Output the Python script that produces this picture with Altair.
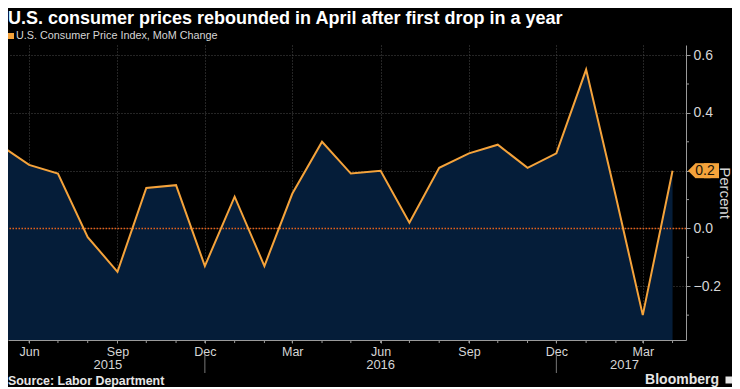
import altair as alt
import pandas as pd

# ---------------- data ----------------
months = [
    "2015-05-01", "2015-06-01", "2015-07-01", "2015-08-01", "2015-09-01", "2015-10-01",
    "2015-11-01", "2015-12-01", "2016-01-01", "2016-02-01", "2016-03-01", "2016-04-01",
    "2016-05-01", "2016-06-01", "2016-07-01", "2016-08-01", "2016-09-01", "2016-10-01",
    "2016-11-01", "2016-12-01", "2017-01-01", "2017-02-01", "2017-03-01", "2017-04-01",
]
cpi_mom = [
    0.29, 0.22, 0.19, -0.03, -0.15, 0.14,
    0.15, -0.13, 0.11, -0.13, 0.12, 0.30,
    0.19, 0.20, 0.02, 0.21, 0.26, 0.29,
    0.21, 0.26, 0.55, 0.11, -0.30, 0.20,
]
y_ticks = [-0.2, 0.0, 0.2, 0.4, 0.6]
y_minor = [-0.3, -0.1, 0.1, 0.3, 0.5]
label_months = ["2015-06-01", "2015-09-01", "2015-12-01", "2016-03-01",
                "2016-06-01", "2016-09-01", "2016-12-01", "2017-03-01"]
year_breaks = ["2015-12-01", "2016-12-01"]
year_labels = ["2015", "2016", "2017"]
year_label_at = ["2015-08-22", "2016-06-01", "2017-02-10"]

title_text = "U.S. consumer prices rebounded in April after first drop in a year"
legend_text = "U.S. Consumer Price Index, MoM Change"
source_text = "Source: Labor Department"
brand_text = "Bloomberg"

# ---------------- layout / style ----------------
W, H = 678, 295
Y_MIN, Y_MAX = -0.386, 0.635
FONT = "Liberation Sans, Arial, sans-serif"
ORANGE = "#f5a33b"
NAVY = "#051d39"
GRID = "#4a4a4a"
AXIS = "#9a9a9a"
LABEL = "#d6d6d6"

df = pd.DataFrame({"date": months, "value": cpi_mom})
last = df.tail(1)


def dt(s):
    y, m, d = (int(p) for p in s.split("-"))
    return alt.DateTime(year=y, month=m, date=d, utc=True)


xscale = alt.Scale(type="utc", domain=[alt.DateTime(year=2015, month=5, date=10, utc=True),
                                       alt.DateTime(year=2017, month=4, date=15, utc=True)])
yscale = alt.Scale(domain=[Y_MIN, Y_MAX], nice=False, zero=False)

x_axis = alt.Axis(
    values=[dt(m) for m in label_months], format="%b",
    tickSize=3, tickColor=AXIS, domainColor=AXIS, labelColor=LABEL, labelFontSize=12.5,
    labelPadding=2, grid=True, gridColor=GRID, gridDash=[1, 2], title=None,
    labelFlush=False, labelOverlap=False, labelFont=FONT,
)
y_axis = alt.Axis(
    orient="right", values=y_ticks, format=".1f",
    labelExpr="abs(datum.value - 0.2) < 1e-6 ? '' : datum.label",
    tickSize=4, tickColor=AXIS, domainColor=AXIS, labelColor=LABEL, labelFontSize=14,
    labelPadding=3, labelFont=FONT, grid=True, gridColor=GRID, gridDash=[1, 2],
    title="Percent", titleAngle=90, titleColor=LABEL, titleFontSize=15, titleFontWeight="normal",
    titleFont=FONT, titleX=38, titleY=H / 2, titleAlign="center", titleBaseline="middle",
)

base = alt.Chart(df)

area = base.mark_area(color=NAVY, clip=True).encode(
    x=alt.X("date:T", scale=xscale, axis=x_axis),
    y=alt.Y("value:Q", scale=yscale, axis=y_axis),
    y2=alt.datum(Y_MIN),
)

mticks = alt.Chart(pd.DataFrame({"date": months})).mark_rule(color=AXIS).encode(
    x=alt.X("date:T", scale=xscale), y=alt.value(H), y2=alt.value(H + 3)
)

zero = alt.Chart(pd.DataFrame({"value": [0.0]})).mark_rule(
    color="#e4621c", strokeDash=[1.5, 1.5], strokeWidth=1.6
).encode(y=alt.Y("value:Q", scale=yscale))

line = base.mark_line(color=ORANGE, strokeWidth=2, clip=True).encode(
    x=alt.X("date:T", scale=xscale), y=alt.Y("value:Q", scale=yscale)
)

minor = alt.Chart(pd.DataFrame({"value": y_minor})).mark_rule(color=AXIS).encode(
    y=alt.Y("value:Q", scale=yscale), x=alt.value(W), x2=alt.value(W + 3)
)

# value tag on the right axis: pointed tip + box
tag_tip = alt.Chart(last).mark_point(
    shape="diamond", filled=True, color=ORANGE, opacity=1, size=225, strokeWidth=0
).encode(y=alt.Y("value:Q", scale=yscale), x=alt.value(W + 9.5))
tag_box1 = alt.Chart(last).mark_point(
    shape="square", filled=True, color=ORANGE, opacity=1, size=225, strokeWidth=0
).encode(y=alt.Y("value:Q", scale=yscale), x=alt.value(W + 17))
tag_box2 = alt.Chart(last).mark_point(
    shape="square", filled=True, color=ORANGE, opacity=1, size=225, strokeWidth=0
).encode(y=alt.Y("value:Q", scale=yscale), x=alt.value(W + 25.5))
tag_text = alt.Chart(last).mark_text(
    font=FONT, fontSize=14, color="#1b1408", align="center", baseline="middle"
).encode(y=alt.Y("value:Q", scale=yscale), x=alt.value(W + 19),
         text=alt.Text("value:Q", format=".1f"))

ybreak = alt.Chart(pd.DataFrame({"date": year_breaks})).mark_rule(color="#777").encode(
    x=alt.X("date:T", scale=xscale), y=alt.value(H + 14), y2=alt.value(H + 33)
)

ylab = alt.Chart(pd.DataFrame({"date": year_label_at, "label": year_labels})).mark_text(
    font=FONT, fontSize=13, color=LABEL, baseline="middle", align="center"
).encode(x=alt.X("date:T", scale=xscale), y=alt.value(H + 25), text="label:N")


def note(text, x, y, size, weight="normal", color=LABEL, align="left"):
    return alt.Chart(pd.DataFrame({"t": [text]})).mark_text(
        font=FONT, fontSize=size, fontWeight=weight, color=color, align=align, baseline="middle"
    ).encode(x=alt.value(x), y=alt.value(y), text="t:N")


title = note(title_text, 0, -26, 18, "bold", "#ffffff")
legend_sq = alt.Chart(pd.DataFrame({"t": [legend_text]})).mark_point(
    shape="square", filled=True, color=ORANGE, opacity=1, size=36, strokeWidth=0
).encode(x=alt.value(3), y=alt.value(-9))
legend = note(legend_text, 8, -9, 10.8, "normal", LABEL)
source = note(source_text, 0, H + 41, 12.4, "bold", "#e6e6e6")
brand = note(brand_text, W + 33, H + 40, 14, "bold", "#e6e6e6", "right")
logo = alt.Chart(pd.DataFrame({"t": [brand_text]})).mark_point(
    shape="square", filled=True, color="#e6e6e6", opacity=1, size=49, strokeWidth=0
).encode(x=alt.value(W + 43), y=alt.value(H + 40))

chart = alt.layer(
    area, mticks, zero, line, minor, tag_tip, tag_box1, tag_box2, tag_text, ybreak, ylab,
    title, legend_sq, legend, source, brand, logo,
).properties(
    width=W, height=H,
    autosize=alt.AutoSizeParams(type="none"),
    padding={"left": 0, "top": 37, "right": 46, "bottom": 47},
    background="#000000",
).configure_view(stroke=None)

chart.save("out.html", embed_options={"renderer": "svg", "actions": False})
